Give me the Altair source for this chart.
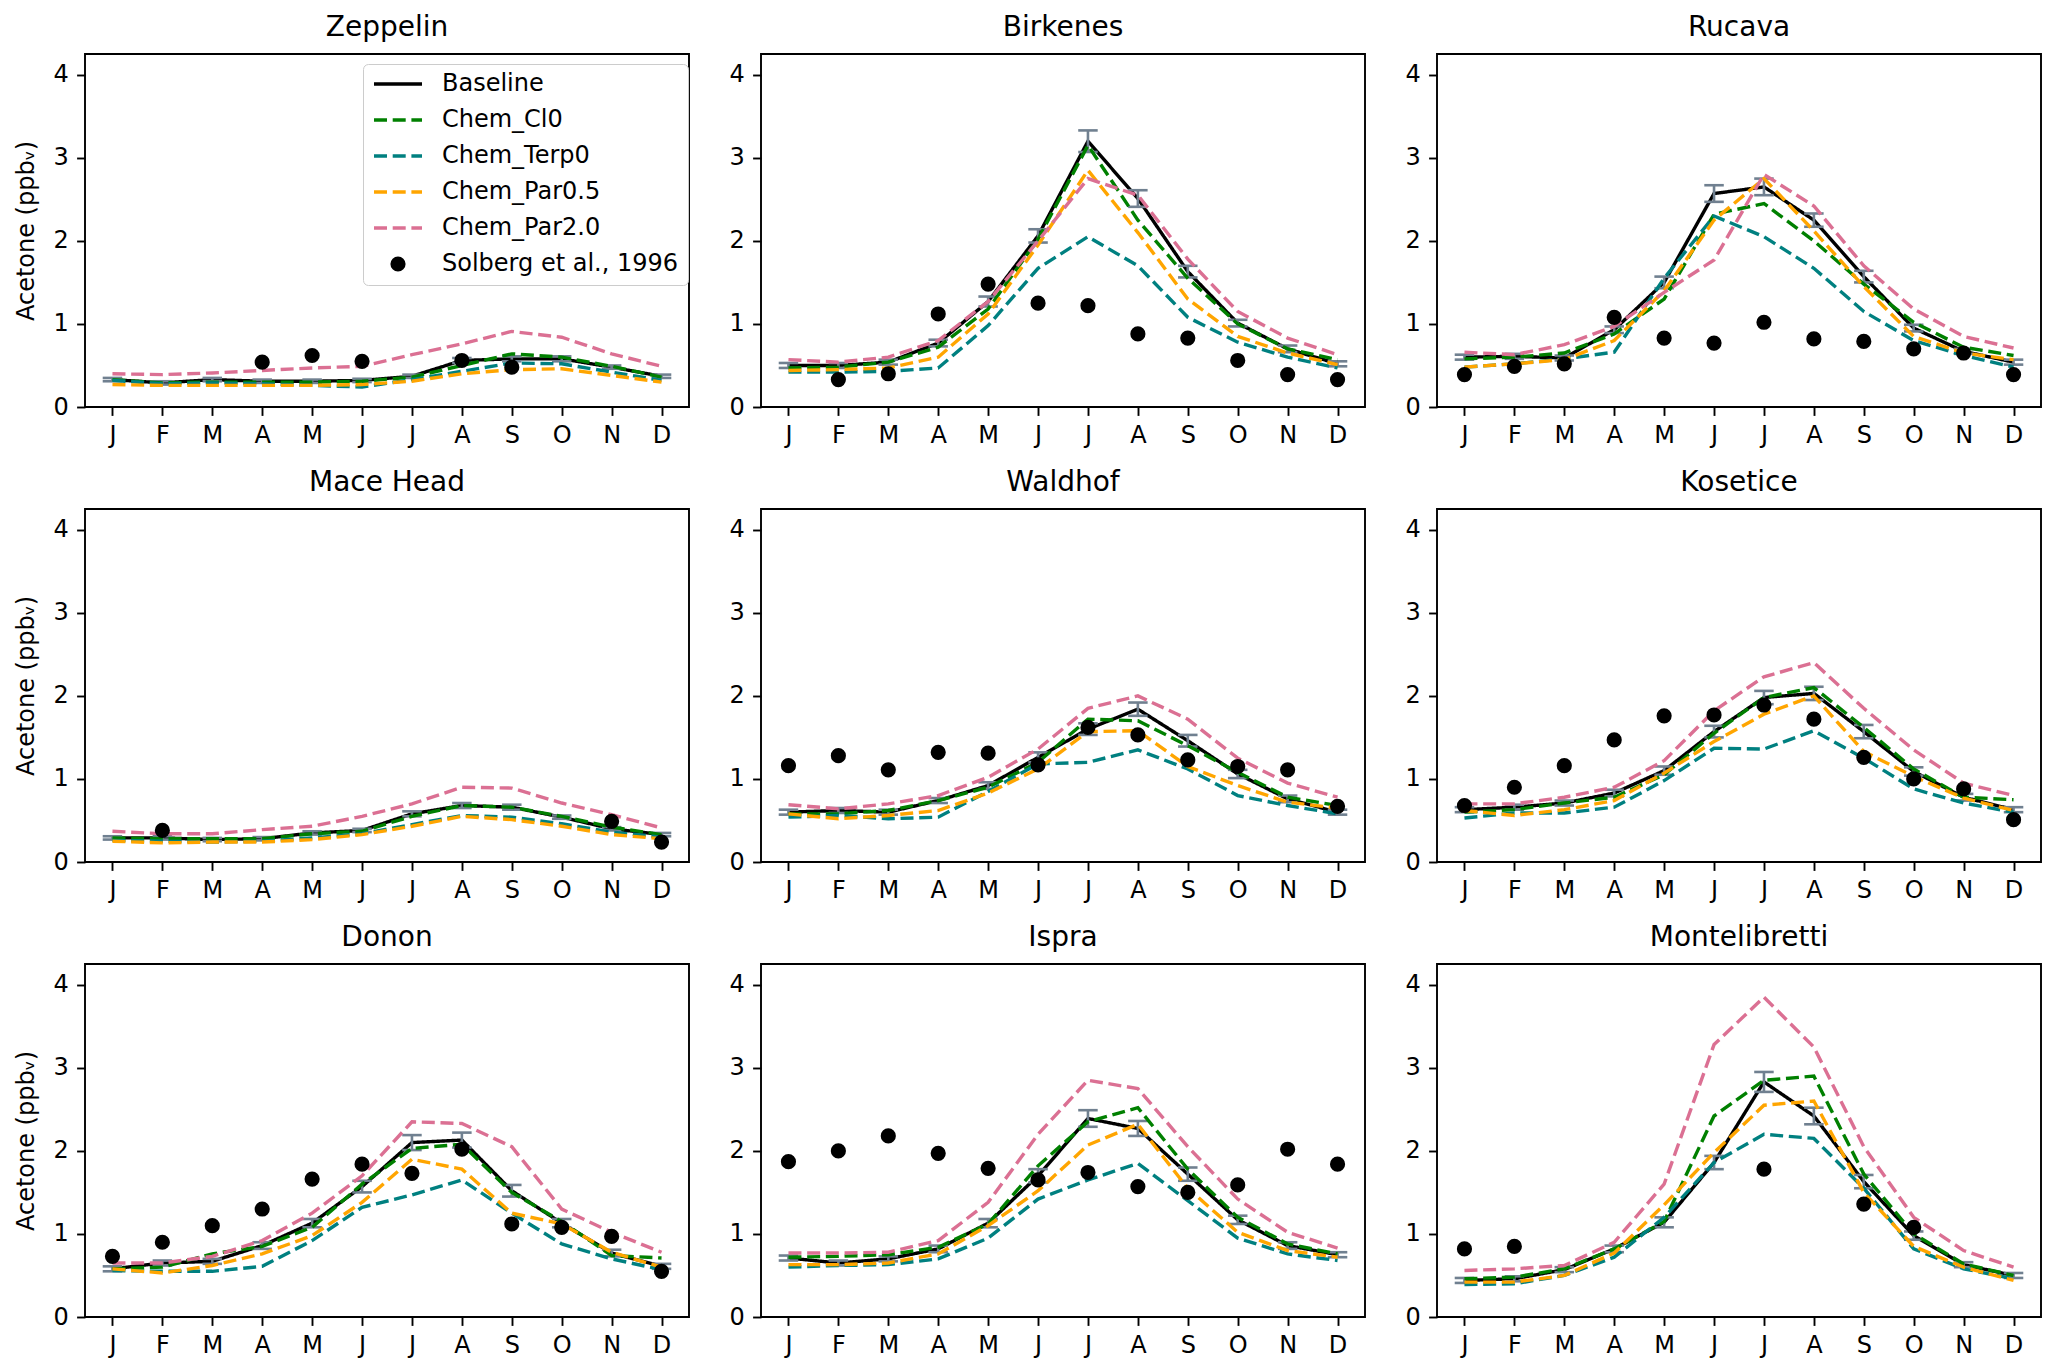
import json
import altair as alt
import pandas as pd

MONTHS = ['J', 'F', 'M', 'A', 'M', 'J', 'J', 'A', 'S', 'O', 'N', 'D']
SERIES = ['Baseline', 'Chem_Cl0', 'Chem_Terp0', 'Chem_Par0.5', 'Chem_Par2.0']
OBS_LABEL = 'Solberg et al., 1996'
ALL_LABELS = SERIES + [OBS_LABEL]
LINE_COLORS = ['black', 'green', 'teal', 'orange', 'palevioletred', 'transparent']
FILL_COLORS = ['transparent', 'transparent', 'transparent', 'transparent', 'transparent', 'black']
DASHES = [[1, 0], [13, 5.7], [13, 5.7], [13, 5.7], [13, 5.7], [1, 0]]
SHAPES = ['stroke', 'stroke', 'stroke', 'stroke', 'stroke', 'circle']
SIZES = [2304, 2304, 2304, 2304, 2304, 230]
Y_TICKS = [0, 1, 2, 3, 4]
Y_TITLE = 'Acetone (ppbᵥ)'

# ---- Zeppelin ----
zep_base = [0.33, 0.29, 0.33, 0.31, 0.31, 0.32, 0.37, 0.56, 0.58, 0.58, 0.48, 0.37]
zep_err = [0.02, 0.02, 0.02, 0.02, 0.02, 0.02, 0.02, 0.03, 0.03, 0.03, 0.02, 0.02]
zep_cl0 = [0.33, 0.29, 0.30, 0.30, 0.30, 0.31, 0.36, 0.50, 0.64, 0.60, 0.49, 0.36]
zep_terp0 = [0.32, 0.28, 0.29, 0.28, 0.26, 0.24, 0.33, 0.43, 0.53, 0.52, 0.42, 0.32]
zep_par05 = [0.27, 0.26, 0.26, 0.26, 0.26, 0.27, 0.31, 0.40, 0.45, 0.46, 0.38, 0.30]
zep_par20 = [0.40, 0.39, 0.41, 0.44, 0.47, 0.49, 0.63, 0.76, 0.91, 0.84, 0.64, 0.49]
zep_obs = [None, None, None, 0.54, 0.62, 0.55, None, 0.56, 0.48, None, None, None]

# ---- Birkenes ----
bir_base = [0.50, 0.50, 0.54, 0.77, 1.27, 2.06, 3.20, 2.51, 1.63, 1.01, 0.70, 0.52]
bir_err = [0.03, 0.03, 0.03, 0.04, 0.06, 0.08, 0.13, 0.10, 0.07, 0.04, 0.04, 0.03]
bir_cl0 = [0.47, 0.48, 0.54, 0.72, 1.18, 2.02, 3.15, 2.25, 1.55, 1.00, 0.70, 0.57]
bir_terp0 = [0.42, 0.42, 0.43, 0.47, 0.98, 1.67, 2.05, 1.70, 1.08, 0.78, 0.60, 0.47]
bir_par05 = [0.44, 0.45, 0.47, 0.60, 1.12, 1.95, 2.85, 2.10, 1.30, 0.85, 0.65, 0.51]
bir_par20 = [0.57, 0.54, 0.60, 0.80, 1.27, 2.00, 2.75, 2.55, 1.78, 1.15, 0.83, 0.63]
bir_obs = [None, 0.33, 0.40, 1.12, 1.48, 1.25, 1.22, 0.88, 0.83, 0.56, 0.39, 0.33]

# ---- Rucava ----
ruc_base = [0.60, 0.61, 0.59, 0.93, 1.50, 2.57, 2.65, 2.25, 1.57, 0.95, 0.67, 0.54]
ruc_err = [0.03, 0.03, 0.03, 0.04, 0.07, 0.10, 0.10, 0.08, 0.07, 0.04, 0.03, 0.03]
ruc_cl0 = [0.58, 0.60, 0.65, 0.88, 1.30, 2.32, 2.45, 2.00, 1.48, 1.02, 0.72, 0.62]
ruc_terp0 = [0.48, 0.52, 0.58, 0.66, 1.55, 2.30, 2.05, 1.67, 1.15, 0.80, 0.62, 0.48]
ruc_par05 = [0.48, 0.52, 0.57, 0.80, 1.40, 2.25, 2.75, 2.12, 1.45, 0.85, 0.65, 0.57]
ruc_par20 = [0.66, 0.63, 0.75, 0.97, 1.38, 1.77, 2.80, 2.42, 1.70, 1.18, 0.85, 0.71]
ruc_obs = [0.39, 0.49, 0.52, 1.08, 0.83, 0.77, 1.02, 0.82, 0.79, 0.70, 0.65, 0.39]

# ---- Mace Head ----
mac_base = [0.29, 0.29, 0.27, 0.28, 0.35, 0.38, 0.58, 0.68, 0.66, 0.54, 0.40, 0.33]
mac_err = [0.02, 0.02, 0.02, 0.02, 0.02, 0.02, 0.03, 0.03, 0.03, 0.02, 0.02, 0.02]
mac_cl0 = [0.29, 0.28, 0.28, 0.28, 0.34, 0.37, 0.55, 0.68, 0.66, 0.55, 0.42, 0.33]
mac_terp0 = [0.26, 0.25, 0.24, 0.25, 0.29, 0.34, 0.45, 0.56, 0.54, 0.46, 0.36, 0.30]
mac_par05 = [0.25, 0.23, 0.24, 0.24, 0.27, 0.33, 0.43, 0.55, 0.51, 0.43, 0.33, 0.28]
mac_par20 = [0.37, 0.34, 0.34, 0.39, 0.43, 0.55, 0.70, 0.90, 0.89, 0.71, 0.57, 0.41]
mac_obs = [None, 0.38, None, None, None, None, None, None, None, None, 0.49, 0.24]

# ---- Waldhof ----
wal_base = [0.60, 0.62, 0.60, 0.74, 0.92, 1.26, 1.60, 1.84, 1.46, 1.06, 0.76, 0.60]
wal_err = [0.03, 0.03, 0.03, 0.03, 0.04, 0.06, 0.07, 0.08, 0.07, 0.05, 0.04, 0.03]
wal_cl0 = [0.58, 0.58, 0.62, 0.74, 0.90, 1.20, 1.72, 1.70, 1.40, 1.08, 0.78, 0.68]
wal_terp0 = [0.54, 0.56, 0.52, 0.54, 0.85, 1.18, 1.20, 1.35, 1.12, 0.80, 0.68, 0.58]
wal_par05 = [0.58, 0.52, 0.56, 0.62, 0.83, 1.12, 1.57, 1.58, 1.15, 0.92, 0.72, 0.65]
wal_par20 = [0.69, 0.64, 0.70, 0.80, 1.02, 1.36, 1.85, 2.00, 1.72, 1.25, 0.95, 0.78]
wal_obs = [1.16, 1.28, 1.11, 1.32, 1.31, 1.17, 1.62, 1.53, 1.23, 1.15, 1.11, 0.67]

# ---- Kosetice ----
kos_base = [0.63, 0.66, 0.71, 0.83, 1.10, 1.57, 1.98, 2.03, 1.57, 1.09, 0.78, 0.63]
kos_err = [0.03, 0.03, 0.03, 0.04, 0.05, 0.07, 0.08, 0.08, 0.08, 0.05, 0.04, 0.03]
kos_cl0 = [0.60, 0.63, 0.71, 0.78, 1.05, 1.55, 1.98, 2.10, 1.62, 1.12, 0.78, 0.75]
kos_terp0 = [0.53, 0.59, 0.59, 0.66, 0.98, 1.37, 1.36, 1.58, 1.25, 0.88, 0.71, 0.60]
kos_par05 = [0.62, 0.56, 0.63, 0.74, 1.07, 1.45, 1.78, 2.00, 1.33, 1.03, 0.77, 0.62]
kos_par20 = [0.70, 0.70, 0.78, 0.90, 1.22, 1.82, 2.23, 2.40, 1.85, 1.35, 0.95, 0.80]
kos_obs = [0.68, 0.90, 1.16, 1.47, 1.76, 1.77, 1.89, 1.72, 1.26, 1.00, 0.88, 0.51]

# ---- Donon ----
don_base = [0.58, 0.65, 0.67, 0.86, 1.13, 1.57, 2.10, 2.13, 1.52, 1.13, 0.77, 0.61]
don_err = [0.03, 0.03, 0.03, 0.04, 0.05, 0.07, 0.09, 0.09, 0.07, 0.05, 0.04, 0.03]
don_cl0 = [0.58, 0.60, 0.76, 0.85, 1.08, 1.60, 2.03, 2.08, 1.50, 1.15, 0.74, 0.71]
don_terp0 = [0.56, 0.55, 0.55, 0.61, 0.92, 1.32, 1.47, 1.65, 1.25, 0.88, 0.70, 0.57]
don_par05 = [0.58, 0.53, 0.62, 0.76, 0.98, 1.38, 1.90, 1.78, 1.25, 1.12, 0.78, 0.60]
don_par20 = [0.65, 0.65, 0.73, 0.92, 1.25, 1.70, 2.35, 2.33, 2.05, 1.30, 1.02, 0.78]
don_obs = [0.73, 0.90, 1.10, 1.30, 1.66, 1.84, 1.73, 2.02, 1.12, 1.08, 0.97, 0.55]

# ---- Ispra ----
isp_base = [0.71, 0.65, 0.70, 0.82, 1.13, 1.70, 2.39, 2.27, 1.72, 1.17, 0.86, 0.75]
isp_err = [0.03, 0.03, 0.03, 0.04, 0.05, 0.08, 0.10, 0.09, 0.08, 0.05, 0.04, 0.03]
isp_cl0 = [0.72, 0.73, 0.75, 0.84, 1.12, 1.82, 2.35, 2.52, 1.78, 1.20, 0.88, 0.76]
isp_terp0 = [0.60, 0.62, 0.63, 0.70, 0.95, 1.42, 1.65, 1.85, 1.40, 0.95, 0.76, 0.68]
isp_par05 = [0.63, 0.63, 0.65, 0.76, 1.10, 1.52, 2.07, 2.32, 1.55, 1.02, 0.80, 0.72]
isp_par20 = [0.77, 0.77, 0.78, 0.92, 1.38, 2.20, 2.85, 2.75, 2.05, 1.42, 1.02, 0.83]
isp_obs = [1.87, 2.00, 2.18, 1.97, 1.79, 1.65, 1.74, 1.57, 1.50, 1.59, 2.02, 1.84]

# ---- Montelibretti ----
mon_base = [0.44, 0.46, 0.57, 0.82, 1.14, 1.86, 2.83, 2.42, 1.63, 0.98, 0.63, 0.50]
mon_err = [0.03, 0.03, 0.03, 0.04, 0.06, 0.08, 0.12, 0.10, 0.08, 0.05, 0.03, 0.03]
mon_cl0 = [0.46, 0.48, 0.58, 0.82, 1.15, 2.42, 2.85, 2.90, 1.72, 1.00, 0.64, 0.50]
mon_terp0 = [0.39, 0.40, 0.50, 0.72, 1.20, 1.86, 2.20, 2.15, 1.55, 0.82, 0.58, 0.46]
mon_par05 = [0.42, 0.42, 0.50, 0.77, 1.35, 1.98, 2.55, 2.60, 1.50, 0.85, 0.60, 0.44]
mon_par20 = [0.56, 0.58, 0.62, 0.90, 1.60, 3.28, 3.85, 3.25, 2.05, 1.20, 0.80, 0.60]
mon_obs = [0.82, 0.85, None, None, None, None, 1.78, None, 1.36, 1.08, None, None]

STATIONS = [
    ('Zeppelin', zep_base, zep_err, zep_cl0, zep_terp0, zep_par05, zep_par20, zep_obs),
    ('Birkenes', bir_base, bir_err, bir_cl0, bir_terp0, bir_par05, bir_par20, bir_obs),
    ('Rucava', ruc_base, ruc_err, ruc_cl0, ruc_terp0, ruc_par05, ruc_par20, ruc_obs),
    ('Mace Head', mac_base, mac_err, mac_cl0, mac_terp0, mac_par05, mac_par20, mac_obs),
    ('Waldhof', wal_base, wal_err, wal_cl0, wal_terp0, wal_par05, wal_par20, wal_obs),
    ('Kosetice', kos_base, kos_err, kos_cl0, kos_terp0, kos_par05, kos_par20, kos_obs),
    ('Donon', don_base, don_err, don_cl0, don_terp0, don_par05, don_par20, don_obs),
    ('Ispra', isp_base, isp_err, isp_cl0, isp_terp0, isp_par05, isp_par20, isp_obs),
    ('Montelibretti', mon_base, mon_err, mon_cl0, mon_terp0, mon_par05, mon_par20, mon_obs),
]

FONT = 'DejaVu Sans'


def make_legend():
    return alt.Legend(
        title=None, orient='none', legendX=278, legendY=10, columns=1,
        symbolStrokeWidth=3.4, symbolOpacity=1, clipHeight=22,
        labelFont=FONT, labelFontSize=24, labelColor='black', labelLimit=500,
        labelOffset=18, rowPadding=12, padding=9, symbolOffset=0,
        strokeColor='#cccccc', fillColor='white', cornerRadius=5,
    )


STROKE = alt.Stroke('s:N', scale=alt.Scale(domain=ALL_LABELS, range=LINE_COLORS), legend=make_legend())
DASH = alt.StrokeDash('s:N', scale=alt.Scale(domain=ALL_LABELS, range=DASHES), legend=make_legend())
FILL = alt.Fill('s:N', scale=alt.Scale(domain=ALL_LABELS, range=FILL_COLORS), legend=make_legend())
SHAPE = alt.Shape('s:N', scale=alt.Scale(domain=ALL_LABELS, range=SHAPES), legend=make_legend())
SIZE = alt.Size('s:N', scale=alt.Scale(type='ordinal', domain=ALL_LABELS, range=SIZES), legend=make_legend())

label_expr = json.dumps(MONTHS).replace('"', "'") + '[datum.value]'
XSCALE = alt.Scale(domain=[-0.55, 11.55], nice=False, zero=False)
XAXIS = alt.Axis(values=list(range(12)), labelExpr=label_expr, title=None,
                 labelFlush=False, labelOverlap=False)
YSCALE = alt.Scale(domain=[0, 4.25], nice=False, zero=False)


def panel(name, base, err, cl0, terp0, par05, par20, obs, first_col):
    rows = []
    for s, vals in zip(SERIES, [base, cl0, terp0, par05, par20]):
        for i, v in enumerate(vals):
            rows.append({'m': i, 'v': v, 's': s})
    df = pd.DataFrame(rows)
    edf = pd.DataFrame({'m': list(range(12)),
                        'lo': [b - e for b, e in zip(base, err)],
                        'hi': [b + e for b, e in zip(base, err)]})
    odf = pd.DataFrame([{'m': i, 'v': v, 's': OBS_LABEL} for i, v in enumerate(obs) if v is not None])

    yaxis = alt.Axis(values=Y_TICKS, title=Y_TITLE if first_col else None, titlePadding=14)
    x = alt.X('m:Q', scale=XSCALE, axis=XAXIS)

    def y(field):
        return alt.Y(field, type='quantitative', scale=YSCALE, axis=yaxis)

    base_line = alt.Chart(df[df.s == 'Baseline']).mark_line(strokeWidth=3.4).encode(
        x=x, y=y('v'), stroke=STROKE, strokeDash=DASH)
    bars = alt.Chart(edf).mark_rule(color='slategray', strokeWidth=2.6).encode(
        x=x, y=y('lo'), y2='hi:Q')
    cap_lo = alt.Chart(edf).mark_point(shape='stroke', size=380, strokeWidth=2.6,
                                       color='slategray', opacity=1).encode(x=x, y=y('lo'))
    cap_hi = alt.Chart(edf).mark_point(shape='stroke', size=380, strokeWidth=2.6,
                                       color='slategray', opacity=1).encode(x=x, y=y('hi'))
    dashed = alt.Chart(df[df.s != 'Baseline']).mark_line(strokeWidth=3.4).encode(
        x=x, y=y('v'), stroke=STROKE, strokeDash=DASH)
    pts = alt.Chart(odf).mark_point(opacity=1, strokeWidth=3.4).encode(
        x=x, y=y('v'), fill=FILL, stroke=STROKE, shape=SHAPE, size=SIZE)

    return alt.layer(base_line, bars, cap_lo, cap_hi, dashed, pts).properties(
        width=604, height=353,
        title=alt.TitleParams(text=name, fontSize=28, font=FONT, fontWeight='normal',
                              color='black', offset=12, anchor='middle'),
    )


panels = [panel(*st, first_col=(k % 3 == 0)) for k, st in enumerate(STATIONS)]
rows = [alt.hconcat(*panels[r * 3:(r + 1) * 3], spacing=37) for r in range(3)]
chart = alt.vconcat(*rows, spacing=19).properties(
    padding={'left': 5, 'top': 5, 'right': 5, 'bottom': 5}
).configure_view(
    stroke='black', strokeWidth=1.9
).configure_axis(
    domain=False, grid=False, ticks=True, tickColor='black', tickSize=8.4, tickWidth=1.9,
    labelFont=FONT, labelFontSize=24, labelColor='black', labelPadding=8.4,
    titleFont=FONT, titleFontSize=24, titleFontWeight='normal', titleColor='black',
)

chart.save('out.html', embed_options={'renderer': 'svg', 'actions': False})
